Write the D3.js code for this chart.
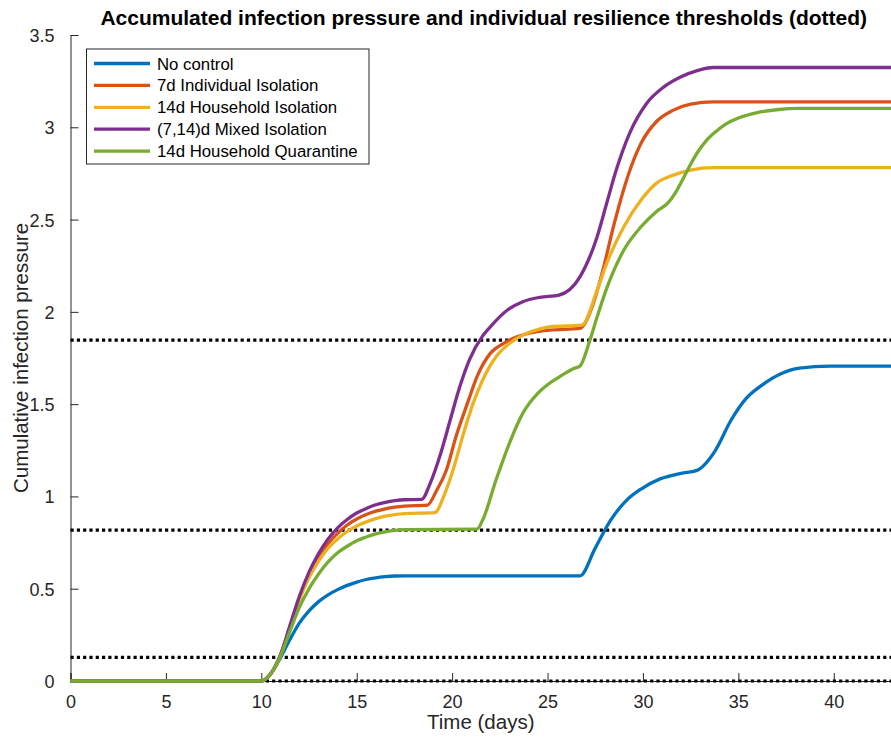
<!DOCTYPE html>
<html>
<head>
<meta charset="utf-8">
<script src="https://cdn.jsdelivr.net/npm/d3@7"></script>
<style>
  body { margin: 0; background: #fff; }
  svg { font-family: "Liberation Sans", Arial, Helvetica, sans-serif; }
</style>
</head>
<body>
<div id="chart"></div>
<script>
// SVG area size
var svgWidth = 891;
var svgHeight = 740;

var margin = { top: 35, right: 0, bottom: 59, left: 70.5 };

var chartWidth = svgWidth - margin.left - margin.right;
var chartHeight = svgHeight - margin.top - margin.bottom;

// data: [day, cumulative pressure]
var noControl = [[0,0],[10,0],[10.5,0.04],[11,0.125],[11.5,0.225],[12,0.315],[12.5,0.38],[13,0.43],
  [13.5,0.467],[14,0.495],[14.5,0.518],[15,0.536],[15.5,0.55],[16,0.559],[16.5,0.565],[17,0.569],
  [17.5,0.57],[26.7,0.57],[27.5,0.72],[28.3,0.87],[29.1,0.975],[29.9,1.04],[30.9,1.095],[32,1.125],
  [32.8,1.14],[33.8,1.25],[34.6,1.41],[35.4,1.53],[36.2,1.6],[37.2,1.663],[38.2,1.695],[39.8,1.706],
  [43,1.706]];

var indIsolation7 = [[0,0],[10,0],[10.5,0.04],[11,0.14],[11.5,0.295],[12,0.45],[12.5,0.575],[13,0.67],
  [13.5,0.745],[14,0.8],[14.5,0.845],[15,0.878],[15.5,0.902],[16,0.92],[16.5,0.933],[17,0.942],
  [17.5,0.948],[18.7,0.953],[19.2,1.035],[19.7,1.143],[20.2,1.323],[20.8,1.504],[21.3,1.648],[22,1.775],
  [22.7,1.829],[23.4,1.865],[24.4,1.892],[25.1,1.901],[26.7,1.911],[27.4,2.046],[27.9,2.226],[28.5,2.48],
  [29.2,2.732],[29.9,2.913],[30.7,3.03],[31.6,3.093],[32.5,3.126],[33.7,3.138],[43,3.138]];

var hhIsolation14 = [[0,0],[10,0],[10.5,0.04],[11,0.135],[11.5,0.29],[12,0.44],[12.5,0.56],[13,0.65],
  [13.5,0.72],[14,0.77],[14.5,0.81],[15,0.84],[15.5,0.862],[16,0.88],[16.5,0.893],[17,0.902],
  [17.5,0.907],[19.1,0.912],[19.55,0.998],[20.1,1.161],[20.6,1.342],[21.1,1.504],[21.6,1.631],
  [22.3,1.757],[23,1.829],[23.7,1.874],[24.4,1.901],[25.1,1.919],[26.8,1.928],[27.6,2.118],[28.1,2.263],
  [29,2.461],[29.9,2.606],[30.7,2.696],[31.6,2.741],[32.5,2.768],[33.7,2.781],[43,2.781]];

var mixedIsolation = [[0,0],[10,0],[10.5,0.04],[11,0.14],[11.5,0.3],[12,0.46],[12.5,0.59],[13,0.69],
  [13.5,0.77],[14,0.83],[14.5,0.875],[15,0.91],[15.5,0.935],[16,0.955],[16.5,0.968],[17,0.977],
  [17.5,0.982],[18.4,0.984],[18.85,1.071],[19.4,1.233],[19.9,1.414],[20.4,1.594],[20.9,1.739],
  [21.6,1.87],[22,1.919],[22.9,2.01],[23.7,2.055],[24.6,2.079],[25.6,2.091],[26.7,2.19],[27.6,2.407],
  [28.1,2.588],[28.6,2.768],[29.3,2.967],[30.2,3.13],[31.1,3.219],[32,3.274],[32.8,3.306],[33.7,3.324],
  [43,3.324]];

var hhQuarantine14 = [[0,0],[10,0],[10.5,0.04],[11,0.135],[11.5,0.27],[12,0.4],[12.5,0.5],[13,0.58],
  [13.5,0.645],[14,0.695],[14.5,0.73],[15,0.76],[15.5,0.78],[16,0.797],[16.5,0.808],[17,0.816],
  [17.5,0.82],[21.3,0.823],[21.6,0.872],[22.3,1.089],[23,1.288],[23.7,1.45],[24.5,1.56],[25,1.605],
  [25.5,1.64],[26,1.672],[26.4,1.694],[26.7,1.706],[27.2,1.84],[27.6,1.973],[28.1,2.127],[29,2.335],
  [29.9,2.461],[30.7,2.543],[31.3,2.589],[31.7,2.645],[32.1,2.72],[32.5,2.8],[32.9,2.87],[33.3,2.925],
  [33.8,2.975],[34.3,3.015],[35,3.05],[36,3.08],[37,3.095],[38.2,3.102],[43,3.102]];

var seriesNames = ["No control", "7d Individual Isolation", "14d Household Isolation",
                   "(7,14)d Mixed Isolation", "14d Household Quarantine"];
var seriesData = [noControl, indIsolation7, hhIsolation14, mixedIsolation, hhQuarantine14];
var seriesColors = ["#0072BD", "#D95319", "#EDB120", "#7E2F8E", "#77AC30"];

// resilience thresholds (dotted)
var thresholds = [0, 0.128, 0.817, 1.847];

var xTicks = [0, 5, 10, 15, 20, 25, 30, 35, 40];
var yTicks = [0, 0.5, 1, 1.5, 2, 2.5, 3, 3.5];

var svg = d3.select("#chart")
  .append("svg")
  .attr("width", svgWidth)
  .attr("height", svgHeight);

var chartGroup = svg.append("g")
  .attr("transform", `translate(${margin.left}, ${margin.top})`);

var xScale = d3.scaleLinear().domain([0, 43]).range([0, chartWidth]);
var yScale = d3.scaleLinear().domain([0, 3.5]).range([chartHeight, 0]);

var axisColor = "#262626";

// axes (ticks point inward)
var bottomAxis = d3.axisBottom(xScale).tickValues(xTicks).tickSize(-8).tickPadding(14)
  .tickFormat(d3.format("d"));
var leftAxis = d3.axisLeft(yScale).tickValues(yTicks).tickSize(-8).tickPadding(16)
  .tickFormat(d => d);

var xAxisG = chartGroup.append("g")
  .attr("transform", `translate(0, ${chartHeight})`)
  .call(bottomAxis);
var yAxisG = chartGroup.append("g").call(leftAxis);

[xAxisG, yAxisG].forEach(g => {
  g.select(".domain").attr("stroke", axisColor).attr("stroke-width", 1);
  g.selectAll(".tick line").attr("stroke", axisColor).attr("stroke-width", 1);
  g.selectAll(".tick text").attr("fill", axisColor)
    .attr("font-size", 18).attr("font-family", "Liberation Sans, Arial, sans-serif");
});
yAxisG.selectAll(".tick text").attr("dy", "0.36em");

// thresholds
chartGroup.selectAll(".threshold")
  .data(thresholds)
  .enter()
  .append("line")
  .attr("class", "threshold")
  .attr("x1", xScale(0))
  .attr("x2", xScale(43))
  .attr("y1", d => yScale(d))
  .attr("y2", d => yScale(d))
  .attr("stroke", "#000")
  .attr("stroke-width", 3.2)
  .attr("stroke-dasharray", "3.2,3.1");

// curves
var line = d3.line()
  .x(d => xScale(d[0]))
  .y(d => yScale(d[1]))
  .curve(d3.curveMonotoneX);

chartGroup.selectAll(".curve")
  .data(seriesData)
  .enter()
  .append("path")
  .attr("class", "curve")
  .attr("d", d => line(d))
  .attr("fill", "none")
  .attr("stroke", (d, i) => seriesColors[i])
  .attr("stroke-width", 3.3)
  .attr("stroke-linejoin", "round");

// title
svg.append("text")
  .attr("x", margin.left + chartWidth / 2 + 3)
  .attr("y", 25)
  .attr("text-anchor", "middle")
  .attr("font-weight", "bold")
  .attr("font-size", 21)
  .attr("fill", "#000")
  .text("Accumulated infection pressure and individual resilience thresholds (dotted)");

// axis labels
svg.append("text")
  .attr("x", margin.left + chartWidth / 2)
  .attr("y", 729)
  .attr("text-anchor", "middle")
  .attr("font-size", 20.5)
  .attr("fill", axisColor)
  .text("Time (days)");

svg.append("text")
  .attr("transform", `translate(28, ${margin.top + chartHeight / 2}) rotate(-90)`)
  .attr("text-anchor", "middle")
  .attr("font-size", 20.5)
  .attr("fill", axisColor)
  .text("Cumulative infection pressure");

// legend
var legend = svg.append("g").attr("transform", "translate(86.5, 49)");
legend.append("rect")
  .attr("width", 282.5)
  .attr("height", 115)
  .attr("fill", "#fff")
  .attr("stroke", axisColor)
  .attr("stroke-width", 1);

var legendItem = legend.selectAll(".item")
  .data(seriesNames)
  .enter()
  .append("g")
  .attr("class", "item")
  .attr("transform", (d, i) => `translate(0, ${14.5 + i * 21.9})`);

legendItem.append("line")
  .attr("x1", 7.5).attr("x2", 63.5)
  .attr("stroke", (d, i) => seriesColors[i])
  .attr("stroke-width", 3.3);

legendItem.append("text")
  .attr("x", 70.5)
  .attr("dy", "0.36em")
  .attr("font-size", 16.8)
  .attr("fill", "#000")
  .text(d => d);
</script>
</body>
</html>
